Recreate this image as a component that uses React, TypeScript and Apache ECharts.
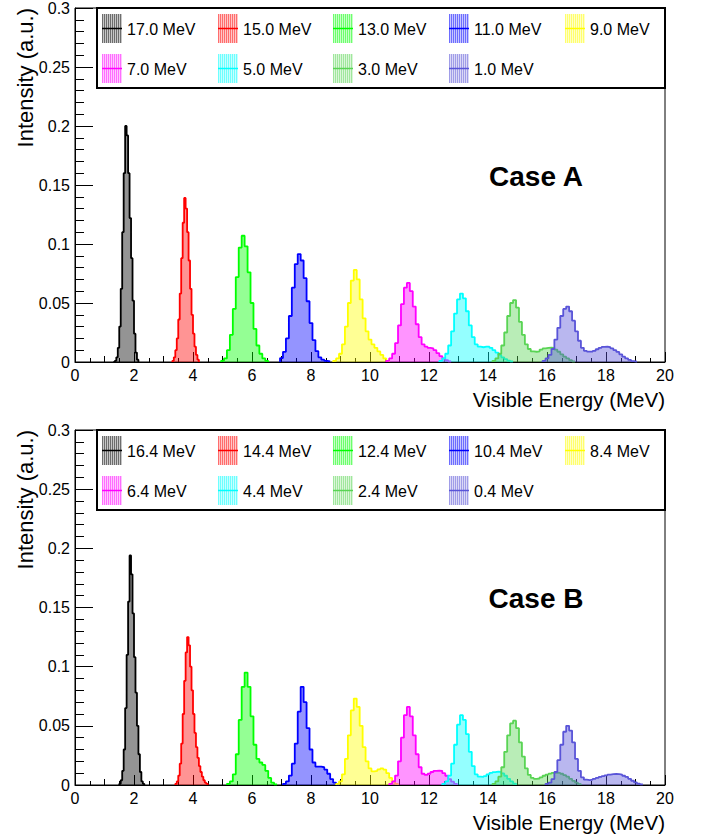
import React, { useEffect, useRef } from "react";
import * as echarts from "echarts";

const FONT = "'Liberation Sans', Arial, Helvetica, sans-serif";

const colors = ["#000000", "#ff0000", "#00ff00", "#0000ff", "#ffff00", "#ff00ff", "#00ffff", "#59d454", "#5954d8"];

// ---------- Case A ----------
const namesA = ["17.0 MeV", "15.0 MeV", "13.0 MeV", "11.0 MeV", "9.0 MeV", "7.0 MeV", "5.0 MeV", "3.0 MeV", "1.0 MeV"];
const startsA = [1.30, 3.30, 4.95, 6.95, 8.75, 10.55, 12.35, 14.15, 15.85];
const widthsA = [0.05, 0.05, 0.1, 0.1, 0.1, 0.1, 0.1, 0.1, 0.1];

const a17 = [0.000, 0.001, 0.004, 0.012, 0.030, 0.062, 0.110, 0.160, 0.200, 0.192, 0.160, 0.122, 0.088, 0.052, 0.024, 0.008, 0.002];
const a15 = [0.001, 0.004, 0.010, 0.020, 0.036, 0.058, 0.088, 0.118, 0.139, 0.130, 0.110, 0.086, 0.062, 0.040, 0.024, 0.013, 0.006, 0.002];
const a13 = [0.001, 0.003, 0.010, 0.023, 0.045, 0.072, 0.097, 0.107, 0.098, 0.076, 0.050, 0.028, 0.014, 0.007, 0.003, 0.001];
const a11 = [0.0033, 0.0086, 0.020, 0.039, 0.063, 0.083, 0.0915, 0.086, 0.071, 0.0515, 0.033, 0.0186, 0.0092, 0.004, 0.002, 0.001, 0.0005];
const a9 = [0.001, 0.003, 0.007, 0.015, 0.030, 0.050, 0.069, 0.078, 0.070, 0.053, 0.037, 0.026, 0.019, 0.015, 0.012, 0.009, 0.006, 0.003, 0.001];
const a7 = [0.001, 0.003, 0.007, 0.016, 0.031, 0.049, 0.063, 0.067, 0.060, 0.047, 0.032, 0.021, 0.015, 0.013, 0.012, 0.0115, 0.010, 0.0075, 0.005, 0.003, 0.0015, 0.0005];
const a5 = [0.001, 0.003, 0.007, 0.014, 0.026, 0.041, 0.053, 0.058, 0.054, 0.043, 0.031, 0.021, 0.015, 0.013, 0.0125, 0.013, 0.013, 0.012, 0.010, 0.008, 0.006, 0.004, 0.0025, 0.0012, 0.0005];
const a3 = [0.001, 0.003, 0.007, 0.014, 0.025, 0.039, 0.050, 0.0525, 0.046, 0.034, 0.023, 0.015, 0.011, 0.009, 0.0087, 0.009, 0.0105, 0.0115, 0.012, 0.0121, 0.012, 0.0105, 0.0087, 0.0065, 0.0045, 0.003, 0.0015, 0.0005];
const a1 = [0.001, 0.003, 0.006, 0.011, 0.019, 0.029, 0.039, 0.045, 0.047, 0.043, 0.035, 0.026, 0.018, 0.012, 0.0095, 0.0088, 0.0088, 0.0095, 0.0108, 0.012, 0.0128, 0.013, 0.0125, 0.0115, 0.010, 0.0085, 0.0065, 0.0045, 0.003, 0.0018, 0.0008, 0.0003];
const valuesA = [a17, a15, a13, a11, a9, a7, a5, a3, a1];

// ---------- Case B ----------
const namesB = ["16.4 MeV", "14.4 MeV", "12.4 MeV", "10.4 MeV", "8.4 MeV", "6.4 MeV", "4.4 MeV", "2.4 MeV", "0.4 MeV"];
const startsB = [1.50, 3.40, 5.15, 7.05, 8.85, 10.65, 12.45, 14.15, 15.95];
const widthsB = [0.05, 0.05, 0.1, 0.1, 0.1, 0.1, 0.1, 0.1, 0.1];

const b16 = [0.001, 0.004, 0.012, 0.030, 0.065, 0.110, 0.155, 0.194, 0.178, 0.145, 0.108, 0.078, 0.050, 0.026, 0.011, 0.003, 0.001];
const b14 = [0.001, 0.003, 0.008, 0.018, 0.035, 0.060, 0.088, 0.112, 0.125, 0.118, 0.100, 0.080, 0.060, 0.044, 0.032, 0.023, 0.016, 0.011, 0.007, 0.004, 0.002, 0.001];
const b12 = [0.001, 0.003, 0.009, 0.026, 0.055, 0.083, 0.095, 0.083, 0.058, 0.034, 0.022, 0.019, 0.017, 0.012, 0.006, 0.002, 0.0005];
const b10 = [0.001, 0.003, 0.008, 0.018, 0.035, 0.062, 0.083, 0.070, 0.048, 0.030, 0.019, 0.0155, 0.0155, 0.015, 0.013, 0.0095, 0.005, 0.002, 0.0005];
const b8 = [0.001, 0.003, 0.009, 0.022, 0.042, 0.063, 0.073, 0.066, 0.050, 0.032, 0.020, 0.014, 0.0115, 0.012, 0.0132, 0.014, 0.013, 0.010, 0.006, 0.003, 0.001];
const b6 = [0.001, 0.003, 0.008, 0.020, 0.040, 0.059, 0.066, 0.058, 0.042, 0.026, 0.015, 0.0095, 0.0085, 0.0095, 0.011, 0.012, 0.0122, 0.012, 0.010, 0.0078, 0.005, 0.0028, 0.001];
const b4 = [0.001, 0.003, 0.008, 0.018, 0.034, 0.051, 0.059, 0.055, 0.043, 0.028, 0.016, 0.009, 0.007, 0.0068, 0.0075, 0.009, 0.0102, 0.0108, 0.0113, 0.011, 0.0098, 0.0078, 0.0052, 0.003, 0.0012];
const b2 = [0.001, 0.003, 0.007, 0.015, 0.028, 0.042, 0.052, 0.0544, 0.048, 0.036, 0.024, 0.014, 0.0085, 0.006, 0.0052, 0.0055, 0.0065, 0.0078, 0.0088, 0.0096, 0.0102, 0.0104, 0.0102, 0.0095, 0.0083, 0.007, 0.0052, 0.0035, 0.002, 0.0008];
const b0 = [0.001, 0.002, 0.005, 0.011, 0.021, 0.034, 0.045, 0.050, 0.046, 0.036, 0.022, 0.012, 0.0065, 0.0045, 0.0042, 0.0045, 0.0052, 0.006, 0.0068, 0.0075, 0.0082, 0.0088, 0.0092, 0.0093, 0.0092, 0.0087, 0.0078, 0.0068, 0.0052, 0.0036, 0.0022, 0.0012, 0.0005];
const valuesB = [b16, b14, b12, b10, b8, b6, b4, b2, b0];

const xTicks = { min: 0, max: 20, major: 2, secondary: 1 };
const yTicks = { min: 0, max: 0.3, major: 0.05 };
const caseLabels = ["Case A", "Case B"];

function histPoints(start: number, width: number, values: number[]) {
  const pts: number[][] = [[start, 0]];
  values.forEach((v, i) => pts.push([+(start + i * width).toFixed(4), v]));
  pts.push([+(start + values.length * width).toFixed(4), 0]);
  return pts;
}

const GRID_LEFT = 75;
const GRID_W = 590;
const panels = [
  { top: 8, height: 354 },
  { top: 430, height: 355 },
];

export default function App() {
  const ref = useRef<HTMLDivElement>(null);
  useEffect(() => {
    if (!ref.current) return;
    const chart = echarts.init(ref.current, undefined, { renderer: "svg" });

    const grids: any[] = [];
    const xAxes: any[] = [];
    const yAxes: any[] = [];
    const series: any[] = [];
    const graphics: any[] = [];

    const sets = [
      { names: namesA, starts: startsA, widths: widthsA, values: valuesA },
      { names: namesB, starts: startsB, widths: widthsB, values: valuesB },
    ];

    panels.forEach((p, pi) => {
      grids.push({
        left: GRID_LEFT, top: p.top, width: GRID_W, height: p.height,
        show: true, borderColor: "#000", borderWidth: 1, backgroundColor: "transparent",
      });
      xAxes.push({
        gridIndex: pi, type: "value", position: "bottom",
        min: xTicks.min, max: xTicks.max, interval: xTicks.major,
        axisLine: { show: true, onZero: false, lineStyle: { color: "#000", width: 1 } },
        axisTick: { show: true, inside: true, length: 10, lineStyle: { color: "#000", width: 1 } },
        minorTick: { show: true, splitNumber: 4, length: 4, lineStyle: { color: "#000", width: 1 } },
        axisLabel: { margin: 5, fontSize: 16, color: "#000", fontFamily: FONT },
        splitLine: { show: false },
      });
      xAxes.push({
        gridIndex: pi, type: "value", position: "bottom",
        min: xTicks.min, max: xTicks.max, interval: xTicks.secondary,
        axisLine: { show: false },
        axisTick: { show: true, inside: true, length: 6, lineStyle: { color: "#000", width: 1 } },
        axisLabel: { show: false },
        splitLine: { show: false },
      });
      yAxes.push({
        gridIndex: pi, type: "value",
        min: yTicks.min, max: yTicks.max, interval: yTicks.major,
        axisLine: { show: true, onZero: false, lineStyle: { color: "#000", width: 1 } },
        axisTick: { show: true, inside: true, length: 18, lineStyle: { color: "#000", width: 1 } },
        minorTick: { show: true, splitNumber: 5, length: 9, lineStyle: { color: "#000", width: 1 } },
        axisLabel: {
          margin: 5, fontSize: 16, color: "#000", fontFamily: FONT,
          formatter: (v: number) => String(Number(v.toFixed(2))),
        },
        splitLine: { show: false },
      });

      const s = sets[pi];
      s.names.forEach((name, i) => {
        series.push({
          name, type: "line", xAxisIndex: pi * 2, yAxisIndex: pi,
          step: "end", symbol: "none", showSymbol: false, silent: true,
          data: histPoints(s.starts[i], s.widths[i], s.values[i]),
          lineStyle: { color: colors[i], width: 1.8 },
          itemStyle: { color: colors[i] },
          areaStyle: { color: colors[i], opacity: 0.42 },
          z: 2 + i,
        });
      });

      // legend box
      const children: any[] = [
        {
          type: "rect", shape: { x: 97, y: p.top, width: 568, height: 80 },
          style: { fill: "#fff", stroke: "#000", lineWidth: 2 },
        },
      ];
      s.names.forEach((name, i) => {
        const col = i % 5;
        const row = Math.floor(i / 5);
        const sx = 102 + col * 115.7;
        const sy = p.top + 6 + row * 40;
        const x0 = Math.round(sx);
        children.push({
          type: "rect", shape: { x: x0, y: sy, width: 20, height: 29 },
          style: { fill: colors[i], opacity: 0.22 },
        });
        for (let k = 0; k < 10; k++) {
          children.push({
            type: "line", shape: { x1: x0 + 0.5 + k * 2, y1: sy, x2: x0 + 0.5 + k * 2, y2: sy + 29 },
            style: { stroke: colors[i], lineWidth: 1, opacity: 0.45 },
          });
        }
        children.push({
          type: "line", shape: { x1: x0, y1: sy + 14.5, x2: x0 + 20, y2: sy + 14.5 },
          style: { stroke: colors[i], lineWidth: 1.5 },
        });
        children.push({
          type: "text", x: x0 + 25, y: sy + 15,
          style: {
            text: name, fill: "#000", font: `16px ${FONT}`,
            align: "left", verticalAlign: "middle", textAlign: "left", textVerticalAlign: "middle",
          },
        });
      });
      graphics.push({ type: "group", children, z: 100 });

      graphics.push({
        type: "text", x: 536, y: p.top + 168,
        style: {
          text: caseLabels[pi], fill: "#000", font: `bold 28px ${FONT}`,
          align: "center", verticalAlign: "middle", textAlign: "center", textVerticalAlign: "middle",
        },
      });
      graphics.push({
        type: "text", x: GRID_LEFT + GRID_W, y: p.top + p.height + 37,
        style: {
          text: "Visible Energy (MeV)", fill: "#000", font: `20.5px ${FONT}`,
          align: "right", verticalAlign: "middle", textAlign: "right", textVerticalAlign: "middle",
        },
      });
      graphics.push({
        type: "text", x: 25, y: p.top, rotation: Math.PI / 2,
        style: {
          text: "Intensity (a.u.)", fill: "#000", font: `22px ${FONT}`,
          align: "right", verticalAlign: "middle", textAlign: "right", textVerticalAlign: "middle",
        },
      });
    });

    chart.setOption({
      animation: false,
      backgroundColor: "#fff",
      grid: grids,
      xAxis: xAxes,
      yAxis: yAxes,
      series,
      graphic: graphics,
    });
    return () => chart.dispose();
  }, []);

  return (
    <div
      ref={ref}
      style={{ position: "absolute", left: 0, top: 0, width: 704, height: 838 }}
    />
  );
}
